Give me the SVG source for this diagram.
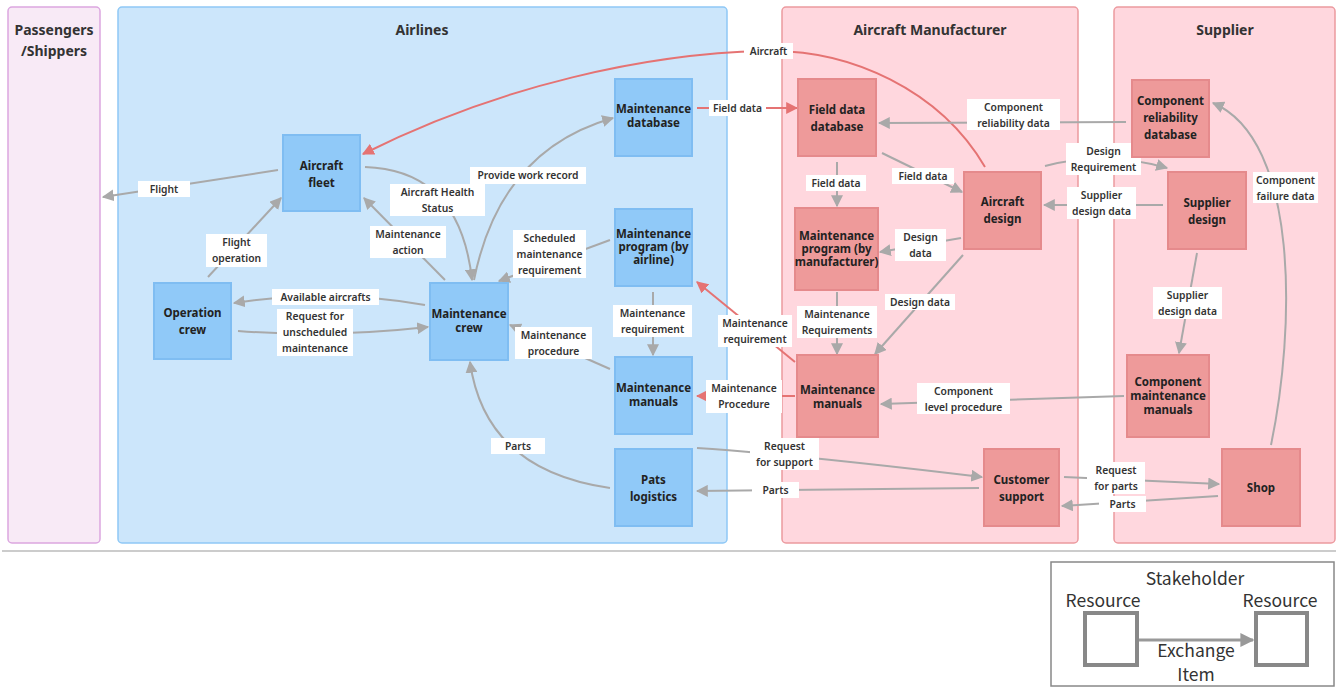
<svg xmlns="http://www.w3.org/2000/svg" width="1336" height="687" viewBox="0 0 1336 687">
  <defs>
    <style>
      .lane-p { fill: #f8eaf6; stroke: #dba6e0; stroke-width: 1.5; }
      .lane-b { fill: #cce6fb; stroke: #8ec8f6; stroke-width: 1.5; }
      .lane-r { fill: #ffd7de; stroke: #ec9a9f; stroke-width: 1.5; }
      .title { font-family: "Noto Sans", "Liberation Sans", sans-serif; font-weight: bold; font-size: 14px; fill: #333; text-anchor: middle; }
      .nb rect { fill: #90c9f8; stroke: #7fbdf2; stroke-width: 2; }
      .nr rect { fill: #ee9a9a; stroke: #e58a8c; stroke-width: 2; }
      .nt { font-family: "Noto Sans", "Liberation Sans", sans-serif; font-weight: bold; font-size: 11.5px; fill: #222; text-anchor: middle; }
      .c { fill: none; stroke: #a9a9a9; stroke-width: 2; marker-end: url(#ag); }
      .cr { fill: none; stroke: #e57373; stroke-width: 2; marker-end: url(#ar); }
      .lb rect { fill: #ffffff; }
      .lt { font-family: "Noto Sans", "Liberation Sans", sans-serif; font-weight: 600; font-size: 10.3px; fill: #333; text-anchor: middle; }
      .lg { font-family: "Noto Sans CJK JP", "Noto Sans", sans-serif; font-size: 17.5px; fill: #333; text-anchor: middle; }
    </style>
    <marker id="ag" viewBox="0 0 10 10" refX="9" refY="5" markerWidth="12" markerHeight="12" markerUnits="userSpaceOnUse" orient="auto">
      <path d="M0,0 L10,5 L0,10 z" fill="#a9a9a9"/>
    </marker>
    <marker id="ar" viewBox="0 0 10 10" refX="9" refY="5" markerWidth="12" markerHeight="12" markerUnits="userSpaceOnUse" orient="auto">
      <path d="M0,0 L10,5 L0,10 z" fill="#e57373"/>
    </marker>
    <marker id="al" viewBox="0 0 10 10" refX="9" refY="5" markerWidth="14" markerHeight="14" markerUnits="userSpaceOnUse" orient="auto">
      <path d="M0,0 L10,5 L0,10 z" fill="#999"/>
    </marker>
  </defs>

  <!-- swimlanes -->
  <g id="lanes">
    <rect class="lane-p" x="8" y="7" width="92" height="536" rx="4"/>
    <rect class="lane-b" x="118" y="7" width="609" height="536" rx="4"/>
    <rect class="lane-r" x="782" y="7" width="296" height="536" rx="4"/>
    <rect class="lane-r" x="1114" y="7" width="221" height="536" rx="4"/>
    <text class="title" x="54" y="35">Passengers</text>
    <text class="title" x="54" y="56">/Shippers</text>
    <text class="title" x="422" y="35">Airlines</text>
    <text class="title" x="930" y="35">Aircraft Manufacturer</text>
    <text class="title" x="1225" y="35">Supplier</text>
  </g>

  <!-- connectors -->
  <g id="connectors">
    <path class="c" d="M278,170 L103,197"/>
    <path class="c" d="M208,277 L281,198"/>
    <path class="c" d="M445,280 L364,198"/>
    <path class="c" d="M365,167 Q460,170 472,280"/>
    <path class="c" d="M474,280 Q500,150 613,118"/>
    <path class="c" d="M610,240 L499,281"/>
    <path class="c" d="M425,305 Q330,288 234,303"/>
    <path class="c" d="M238,331 Q330,338 428,327"/>
    <path class="c" d="M610,369 L510,325"/>
    <path class="c" d="M653,292 L653,355"/>
    <path class="c" d="M610,488 Q485,470 470,362"/>
    <path class="cr" d="M697,108 L797,108"/>
    <path class="cr" d="M985,167 C940,90 850,49 766,51 C650,53 500,85 363,154"/>
    <path class="cr" d="M795,362 L697,282"/>
    <path class="cr" d="M795,396 L697,396"/>
    <path class="c" d="M697,448 Q800,455 982,477"/>
    <path class="c" d="M979,488 L697,491"/>
    <path class="c" d="M837,162 L837,206"/>
    <path class="c" d="M882,153 L962,192"/>
    <path class="c" d="M1126,122 L879,123"/>
    <path class="c" d="M1045,166 Q1105,150 1167,168"/>
    <path class="c" d="M1163,205 L1044,205"/>
    <path class="c" d="M961,238 L880,252"/>
    <path class="c" d="M963,255 L875,354"/>
    <path class="c" d="M837,292 L837,354"/>
    <path class="c" d="M1124,396 L881,404"/>
    <path class="c" d="M1197,253 L1179,353"/>
    <path class="c" d="M1271,445 C1295,330 1300,140 1213,103"/>
    <path class="c" d="M1064,477 L1219,484"/>
    <path class="c" d="M1218,496 L1062,506"/>
  </g>

  <!-- connector labels -->
  <g id="labels" class="lb">
    <rect x="138" y="181" width="52" height="16"/><text class="lt" x="164" y="193">Flight</text>
    <rect x="206" y="234" width="61" height="33"/><text class="lt" x="236.5" y="246">Flight<tspan x="236.5" dy="16">operation</tspan></text>
    <rect x="370" y="226" width="76" height="32"/><text class="lt" x="408" y="238">Maintenance<tspan x="408" dy="16">action</tspan></text>
    <rect x="390" y="184" width="95" height="32"/><text class="lt" x="437.5" y="196">Aircraft Health<tspan x="437.5" dy="16">Status</tspan></text>
    <rect x="470" y="167" width="116" height="17"/><text class="lt" x="528" y="179">Provide work record</text>
    <rect x="513" y="230" width="73" height="48"/><text class="lt" x="549.5" y="242">Scheduled<tspan x="549.5" dy="16">maintenance</tspan><tspan x="549.5" dy="16">requirement</tspan></text>
    <rect x="272" y="289" width="107" height="16"/><text class="lt" x="325.5" y="301">Available aircrafts</text>
    <rect x="277" y="309" width="76" height="47"/><text class="lt" x="315" y="320">Request for<tspan x="315" dy="16">unscheduled</tspan><tspan x="315" dy="16">maintenance</tspan></text>
    <rect x="515" y="327" width="77" height="32"/><text class="lt" x="553.5" y="339">Maintenance<tspan x="553.5" dy="16">procedure</tspan></text>
    <rect x="613" y="305" width="79" height="32"/><text class="lt" x="652.5" y="317">Maintenance<tspan x="652.5" dy="16">requirement</tspan></text>
    <rect x="491" y="438" width="54" height="16"/><text class="lt" x="518" y="450">Parts</text>
    <rect x="709" y="100" width="57" height="16"/><text class="lt" x="737.5" y="112">Field data</text>
    <rect x="744" y="43" width="49" height="16"/><text class="lt" x="768.5" y="55">Aircraft</text>
    <rect x="718" y="315" width="74" height="32"/><text class="lt" x="755" y="327">Maintenance<tspan x="755" dy="16">requirement</tspan></text>
    <rect x="706" y="380" width="76" height="33"/><text class="lt" x="744" y="392">Maintenance<tspan x="744" dy="16">Procedure</tspan></text>
    <rect x="750" y="438" width="69" height="32"/><text class="lt" x="784.5" y="450">Request<tspan x="784.5" dy="16">for support</tspan></text>
    <rect x="752" y="482" width="47" height="16"/><text class="lt" x="775.5" y="494">Parts</text>
    <rect x="806" y="175" width="60" height="16"/><text class="lt" x="836" y="187">Field data</text>
    <rect x="892" y="168" width="62" height="16"/><text class="lt" x="923" y="180">Field data</text>
    <rect x="967" y="99" width="93" height="31"/><text class="lt" x="1013.5" y="111">Component<tspan x="1013.5" dy="16">reliability data</tspan></text>
    <rect x="1066" y="143" width="75" height="32"/><text class="lt" x="1103.5" y="155">Design<tspan x="1103.5" dy="16">Requirement</tspan></text>
    <rect x="1067" y="187" width="69" height="32"/><text class="lt" x="1101.5" y="199">Supplier<tspan x="1101.5" dy="16">design data</tspan></text>
    <rect x="895" y="229" width="51" height="32"/><text class="lt" x="920.5" y="241">Design<tspan x="920.5" dy="16">data</tspan></text>
    <rect x="885" y="294" width="70" height="16"/><text class="lt" x="920" y="306">Design data</text>
    <rect x="797" y="306" width="80" height="32"/><text class="lt" x="837" y="318">Maintenance<tspan x="837" dy="16">Requirements</tspan></text>
    <rect x="917" y="383" width="93" height="31"/><text class="lt" x="963.5" y="395">Component<tspan x="963.5" dy="16">level procedure</tspan></text>
    <rect x="1153" y="287" width="69" height="32"/><text class="lt" x="1187.5" y="299">Supplier<tspan x="1187.5" dy="16">design data</tspan></text>
    <rect x="1253" y="172" width="65" height="31"/><text class="lt" x="1285.5" y="184">Component<tspan x="1285.5" dy="16">failure data</tspan></text>
    <rect x="1087" y="462" width="58" height="32"/><text class="lt" x="1116" y="474">Request<tspan x="1116" dy="16">for parts</tspan></text>
    <rect x="1099" y="496" width="47" height="16"/><text class="lt" x="1122.5" y="508">Parts</text>
  </g>

  <!-- airline resources -->
  <g id="aircraft-fleet" class="nb"><rect x="283" y="135" width="77" height="76"/><text class="nt" x="321.5" y="170">Aircraft<tspan x="321.5" dy="17">fleet</tspan></text></g>
  <g id="operation-crew" class="nb"><rect x="154" y="283" width="77" height="76"/><text class="nt" x="192.5" y="317">Operation<tspan x="192.5" dy="17">crew</tspan></text></g>
  <g id="maintenance-crew" class="nb"><rect x="430" y="283" width="78" height="77"/><text class="nt" x="469" y="318">Maintenance<tspan x="469" dy="14">crew</tspan></text></g>
  <g id="maintenance-database" class="nb"><rect x="615" y="79" width="77" height="77"/><text class="nt" x="653.5" y="113">Maintenance<tspan x="653.5" dy="14">database</tspan></text></g>
  <g id="maintenance-program-airline" class="nb"><rect x="615" y="209" width="77" height="77"/><text class="nt" x="653.5" y="238">Maintenance<tspan x="653.5" dy="13">program (by</tspan><tspan x="653.5" dy="13">airline)</tspan></text></g>
  <g id="maintenance-manuals-airline" class="nb"><rect x="615" y="357" width="77" height="77"/><text class="nt" x="653.5" y="392">Maintenance<tspan x="653.5" dy="14">manuals</tspan></text></g>
  <g id="pats-logistics" class="nb"><rect x="615" y="449" width="77" height="77"/><text class="nt" x="653.5" y="484">Pats<tspan x="653.5" dy="17">logistics</tspan></text></g>

  <!-- manufacturer resources -->
  <g id="field-data-database" class="nr"><rect x="798" y="79" width="78" height="77"/><text class="nt" x="837" y="114">Field data<tspan x="837" dy="17">database</tspan></text></g>
  <g id="maintenance-program-manufacturer" class="nr"><rect x="795" y="208" width="83" height="82"/><text class="nt" x="836.5" y="240">Maintenance<tspan x="836.5" dy="13">program (by</tspan><tspan x="836.5" dy="13">manufacturer)</tspan></text></g>
  <g id="aircraft-design" class="nr"><rect x="964" y="172" width="77" height="77"/><text class="nt" x="1002.5" y="206">Aircraft<tspan x="1002.5" dy="17">design</tspan></text></g>
  <g id="maintenance-manuals-manufacturer" class="nr"><rect x="797" y="355" width="81" height="82"/><text class="nt" x="837.5" y="394">Maintenance<tspan x="837.5" dy="14">manuals</tspan></text></g>
  <g id="customer-support" class="nr"><rect x="984" y="449" width="75" height="77"/><text class="nt" x="1021.5" y="484">Customer<tspan x="1021.5" dy="17">support</tspan></text></g>

  <!-- supplier resources -->
  <g id="component-reliability-database" class="nr"><rect x="1132" y="80" width="77" height="77"/><text class="nt" x="1170.5" y="105">Component<tspan x="1170.5" dy="17">reliability</tspan><tspan x="1170.5" dy="17">database</tspan></text></g>
  <g id="supplier-design" class="nr"><rect x="1168" y="172" width="78" height="77"/><text class="nt" x="1207" y="207">Supplier<tspan x="1207" dy="17">design</tspan></text></g>
  <g id="component-maintenance-manuals" class="nr"><rect x="1127" y="355" width="82" height="82"/><text class="nt" x="1168" y="386">Component<tspan x="1168" dy="14">maintenance</tspan><tspan x="1168" dy="14">manuals</tspan></text></g>
  <g id="shop" class="nr"><rect x="1222" y="449" width="78" height="77"/><text class="nt" x="1261" y="492">Shop</text></g>

  <!-- separator -->
  <line x1="2" y1="551" x2="1336" y2="551" stroke="#cccccc" stroke-width="2"/>

  <!-- legend -->
  <g id="legend">
    <rect x="1051" y="562" width="283" height="124" fill="#ffffff" stroke="#888" stroke-width="1.5"/>
    <text class="lg" x="1195" y="585">Stakeholder</text>
    <text class="lg" x="1103" y="607">Resource</text>
    <text class="lg" x="1280" y="607">Resource</text>
    <rect x="1085" y="613" width="52" height="52" fill="none" stroke="#888" stroke-width="4"/>
    <rect x="1256" y="613" width="51" height="52" fill="none" stroke="#888" stroke-width="4"/>
    <line x1="1139" y1="640" x2="1253" y2="640" stroke="#999" stroke-width="3" marker-end="url(#al)"/>
    <text class="lg" x="1196" y="657">Exchange</text>
    <text class="lg" x="1196" y="681">Item</text>
  </g>
</svg>
